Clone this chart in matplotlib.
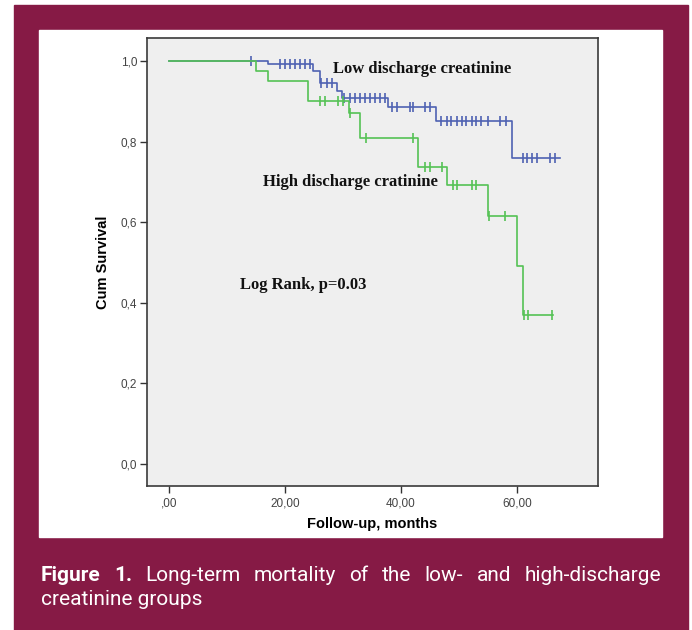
import numpy as np
import matplotlib
matplotlib.use('Agg')
import matplotlib.pyplot as plt
from matplotlib.patches import Rectangle

# data (months, cumulative survival)
high_times = [0, 15, 17, 24, 31, 33, 43, 48, 55, 60, 61, 66.3]
high_surv = [1.0, 0.976, 0.950, 0.900, 0.870, 0.808, 0.738, 0.691, 0.614, 0.492, 0.370, 0.370]
high_censor = [26, 26.9, 29.1, 30.0, 31.2, 34.0, 42.1, 44.1, 45.0, 47.1,
               49.0, 49.7, 52.2, 52.9, 55.2, 57.9, 61.2, 62.0, 66.0]

low_times = [0, 17, 24.9, 26, 28.9, 29.8, 37.8, 46, 59.1, 67.4]
low_surv = [1.0, 0.992, 0.974, 0.945, 0.926, 0.907, 0.885, 0.852, 0.759, 0.759]
low_censor = [14.1, 19.1, 20.0, 20.9, 21.7, 22.6, 23.4, 24.3, 26.3, 27.2, 28.1,
              30.2, 31.2, 32.1, 32.9, 33.8, 34.7, 35.5, 36.4, 37.2, 38.5, 39.4,
              41.6, 42.1, 44.1, 45.0, 47.0, 47.9, 48.7, 49.6, 50.5, 51.3, 52.2,
              53.0, 53.9, 55.1, 57.1, 58.1, 61.0, 61.8, 62.7, 63.5, 65.7, 66.6]

xticks = [0, 20, 40, 60]
xticklabels = [',00', '20,00', '40,00', '60,00']
yticks = [0, 0.2, 0.4, 0.6, 0.8, 1.0]
yticklabels = ['0,0', '0,2', '0,4', '0,6', '0,8', '1,0']

caption_line1 = ['Figure', '1.', 'Long-term', 'mortality', 'of', 'the', 'low-', 'and', 'high-discharge']
caption_line2 = 'creatinine groups'

maroon = '#861a45'
blue = '#4f62b2'
green = '#55c255'

W, H = 692, 630
fig = plt.figure(figsize=(W / 100, H / 100), dpi=100)
fig.patch.set_facecolor('white')

# maroon frame and white panel
fig.patches.append(Rectangle((14 / W, 0), (688 - 14) / W, (630 - 5) / H,
                             transform=fig.transFigure, color=maroon, zorder=0))
fig.patches.append(Rectangle((39 / W, 1 - 537 / H), (662 - 39) / W, (537 - 30) / H,
                             transform=fig.transFigure, color='white', zorder=1))

ax = fig.add_axes([147 / W, 1 - 486 / H, (598 - 147) / W, (486 - 38) / H])
ax.set_zorder(2)
ax.set_facecolor('#efefef')


def surv_at(times, surv, t):
    i = np.searchsorted(times, t, side='right') - 1
    return np.array(surv)[i]


for times, surv, cens, col in [(low_times, low_surv, low_censor, blue),
                               (high_times, high_surv, high_censor, green)]:
    ax.step(times, surv, where='post', color=col, lw=1.2)
    ax.plot(cens, surv_at(times, surv, cens), ls='none', marker='|',
            ms=7, mew=1.2, color=col)

ax.set_xlim(-3.8, 74)
ax.set_ylim(-0.055, 1.057)
ax.set_xticks(xticks)
ax.set_xticklabels(xticklabels)
ax.set_yticks(yticks)
ax.set_yticklabels(yticklabels)
ax.tick_params(direction='out', length=5, width=1, color='#333333',
               labelsize=8.5, labelcolor='#444444')
ax.tick_params(axis='x', pad=3)
ax.tick_params(axis='y', pad=2)
for sp in ax.spines.values():
    sp.set_color('#3a3a3a')
    sp.set_linewidth(1.2)

ax.set_xlabel('Follow-up, months', fontsize=10.5, fontweight='bold',
              family='Liberation Sans', labelpad=6)
ax.set_ylabel('Cum Survival', fontsize=10.5, fontweight='bold',
              family='Liberation Sans', labelpad=8)
for lab in ax.get_xticklabels() + ax.get_yticklabels():
    lab.set_family('Liberation Sans')

serif = dict(family='Liberation Serif', fontweight='bold', fontsize=12, color='#111111')
ax.text(28.3, 0.98, 'Low discharge creatinine', va='center', ha='left', **serif)
ax.text(16.2, 0.70, 'High discharge cratinine', va='center', ha='left', **serif)
ax.text(12.3, 0.444, 'Log Rank, p=0.03', va='center', ha='left', **serif)

# caption, first line justified between 41 and 661 px
cap = dict(family='Roboto', fontsize=15, color='white', va='baseline', ha='left')
words = []
for i, w in enumerate(caption_line1):
    wt = 'bold' if i < 2 else 'normal'
    words.append(fig.text(0, 1 - 581 / H, w, fontweight=wt, **cap))
fig.canvas.draw()
r = fig.canvas.get_renderer()
widths = [t.get_window_extent(r).width for t in words]
gap = (661 - 41 - sum(widths)) / (len(words) - 1)
x = 41
for t, wd in zip(words, widths):
    t.set_x(x / W)
    x += wd + gap
fig.text(41 / W, 1 - 605 / H, caption_line2, **cap)

fig.savefig('out.png', dpi=100)
